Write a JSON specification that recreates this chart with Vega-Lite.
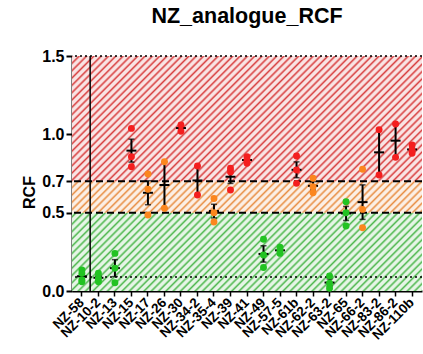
{
  "$schema": "https://vega.github.io/schema/vega-lite/v6.json",
  "width": 350,
  "height": 235,
  "autosize": {"type": "none"},
  "padding": {"left": 72, "top": 56, "right": 1, "bottom": 63},
  "background": "white",
  "title": {"text": "NZ_analogue_RCF", "fontSize": 21.5, "font": "Liberation Sans", "fontWeight": "bold", "color": "black", "offset": 21, "anchor": "middle"},
  "config": {
    "view": {"stroke": null},
    "font": "Liberation Sans",
    "axisX": {"labelAngle": -45, "labelAlign": "right", "labelBaseline": "middle", "labelFontSize": 13.5, "labelFontWeight": "bold", "labelColor": "black", "labelPadding": 4, "tickSize": 5, "tickWidth": 1.5, "tickColor": "black", "domainColor": "black", "domainWidth": 2, "grid": false, "labelOverlap": false},
    "axisY": {"labelFontSize": 16, "labelFontWeight": "bold", "labelColor": "black", "labelPadding": 2, "tickSize": 6, "tickWidth": 2, "tickColor": "black", "domainColor": "black", "domainWidth": 2, "grid": false, "titleFontSize": 16, "titleFontWeight": "bold", "titleColor": "black", "titlePadding": 4, "titleY": 136}
  },
  "datasets": {
    "pts": [
      {"cat": "NZ-58", "rcf": 0.134, "lvl": "low"}, {"cat": "NZ-58", "rcf": 0.113, "lvl": "low"}, {"cat": "NZ-58", "rcf": 0.07, "lvl": "low"}, {"cat": "NZ-58", "rcf": 0.059, "lvl": "low"},
      {"cat": "NZ-10-2", "rcf": 0.113, "lvl": "low"}, {"cat": "NZ-10-2", "rcf": 0.081, "lvl": "low"}, {"cat": "NZ-10-2", "rcf": 0.059, "lvl": "low"},
      {"cat": "NZ-13", "rcf": 0.24, "lvl": "low"}, {"cat": "NZ-13", "rcf": 0.145, "lvl": "low"}, {"cat": "NZ-13", "rcf": 0.053, "lvl": "low"},
      {"cat": "NZ-15", "rcf": 1.038, "lvl": "high"}, {"cat": "NZ-15", "rcf": 0.857, "lvl": "high"}, {"cat": "NZ-15", "rcf": 0.793, "lvl": "high"},
      {"cat": "NZ-17", "rcf": 0.747, "lvl": "mid"}, {"cat": "NZ-17", "rcf": 0.649, "lvl": "mid"}, {"cat": "NZ-17", "rcf": 0.485, "lvl": "mid"},
      {"cat": "NZ-26", "rcf": 0.825, "lvl": "mid"}, {"cat": "NZ-26", "rcf": 0.528, "lvl": "mid"},
      {"cat": "NZ-30", "rcf": 1.02, "lvl": "high"}, {"cat": "NZ-30", "rcf": 1.06, "lvl": "high"},
      {"cat": "NZ-34-2", "rcf": 0.798, "lvl": "high"}, {"cat": "NZ-34-2", "rcf": 0.613, "lvl": "high"},
      {"cat": "NZ-35-4", "rcf": 0.59, "lvl": "mid"}, {"cat": "NZ-35-4", "rcf": 0.5, "lvl": "mid"}, {"cat": "NZ-35-4", "rcf": 0.44, "lvl": "mid"},
      {"cat": "NZ-39", "rcf": 0.783, "lvl": "high"}, {"cat": "NZ-39", "rcf": 0.76, "lvl": "high"}, {"cat": "NZ-39", "rcf": 0.645, "lvl": "high"},
      {"cat": "NZ-41", "rcf": 0.857, "lvl": "high"}, {"cat": "NZ-41", "rcf": 0.836, "lvl": "high"}, {"cat": "NZ-41", "rcf": 0.815, "lvl": "high"},
      {"cat": "NZ-49", "rcf": 0.33, "lvl": "low"}, {"cat": "NZ-49", "rcf": 0.23, "lvl": "low"}, {"cat": "NZ-49", "rcf": 0.15, "lvl": "low"},
      {"cat": "NZ-57-5", "rcf": 0.279, "lvl": "low"}, {"cat": "NZ-57-5", "rcf": 0.26, "lvl": "low"}, {"cat": "NZ-57-5", "rcf": 0.24, "lvl": "low"},
      {"cat": "NZ-61b", "rcf": 0.862, "lvl": "high"}, {"cat": "NZ-61b", "rcf": 0.772, "lvl": "high"}, {"cat": "NZ-61b", "rcf": 0.687, "lvl": "high"},
      {"cat": "NZ-62-2", "rcf": 0.72, "lvl": "mid"}, {"cat": "NZ-62-2", "rcf": 0.666, "lvl": "mid"}, {"cat": "NZ-62-2", "rcf": 0.627, "lvl": "mid"},
      {"cat": "NZ-63-2", "rcf": 0.096, "lvl": "low"}, {"cat": "NZ-63-2", "rcf": 0.049, "lvl": "low"}, {"cat": "NZ-63-2", "rcf": 0.017, "lvl": "low"},
      {"cat": "NZ-65", "rcf": 0.57, "lvl": "low"}, {"cat": "NZ-65", "rcf": 0.5, "lvl": "low"}, {"cat": "NZ-65", "rcf": 0.415, "lvl": "low"},
      {"cat": "NZ-66-2", "rcf": 0.777, "lvl": "mid"}, {"cat": "NZ-66-2", "rcf": 0.521, "lvl": "mid"}, {"cat": "NZ-66-2", "rcf": 0.404, "lvl": "mid"},
      {"cat": "NZ-83-2", "rcf": 1.03, "lvl": "high"}, {"cat": "NZ-83-2", "rcf": 0.74, "lvl": "high"},
      {"cat": "NZ-86-2", "rcf": 1.066, "lvl": "high"}, {"cat": "NZ-86-2", "rcf": 0.853, "lvl": "high"},
      {"cat": "NZ-110b", "rcf": 0.879, "lvl": "high"}, {"cat": "NZ-110b", "rcf": 0.932, "lvl": "high"}, {"cat": "NZ-110b", "rcf": 0.9, "lvl": "high"}
    ],
    "bands": [
      {"lo": 0, "hi": 0.5, "zone": "low"},
      {"lo": 0.5, "hi": 0.7, "zone": "mid"},
      {"lo": 0.7, "hi": 1.5, "zone": "high"}
    ],
    "dash": [{"v": 0.5}, {"v": 0.7}],
    "dot": [{"v": 0.09}, {"v": 1.5}]
  },
  "layer": [
    {
      "data": {"name": "bands"},
      "mark": {"type": "rect"},
      "encoding": {
        "y": {"field": "lo", "type": "quantitative", "scale": {"domain": [0, 1.5], "nice": false, "zero": false}, "axis": {"title": "RCF", "values": [0, 0.5, 0.7, 1, 1.5], "format": ".1f"}},
        "y2": {"field": "hi"},
        "fill": {"field": "zone", "type": "nominal", "scale": {"domain": ["low", "mid", "high"], "range": ["#4fb84f", "#e88f45", "#d84040"]}, "legend": null}
      }
    },
    {
      "data": {"values": [{}]},
      "mark": {"type": "rect", "fill": {"gradient": "linear", "x1": 0, "y1": 0, "x2": 1.1521, "y2": 0.7735, "stops": [
        {"offset": 0, "color": "#ffffff00"}, {"offset": 0.00375, "color": "#ffffffdb"}, {"offset": 0.00875, "color": "#ffffffdb"}, {"offset": 0.0125, "color": "#ffffff00"}, {"offset": 0.01625, "color": "#ffffffdb"}, {"offset": 0.02125, "color": "#ffffffdb"}, {"offset": 0.025, "color": "#ffffff00"}, {"offset": 0.02875, "color": "#ffffffdb"}, {"offset": 0.03375, "color": "#ffffffdb"}, {"offset": 0.0375, "color": "#ffffff00"}, {"offset": 0.04125, "color": "#ffffffdb"}, {"offset": 0.04625, "color": "#ffffffdb"}, {"offset": 0.05, "color": "#ffffff00"}, {"offset": 0.05375, "color": "#ffffffdb"}, {"offset": 0.05875, "color": "#ffffffdb"}, {"offset": 0.0625, "color": "#ffffff00"}, {"offset": 0.06625, "color": "#ffffffdb"}, {"offset": 0.07125, "color": "#ffffffdb"}, {"offset": 0.075, "color": "#ffffff00"}, {"offset": 0.07875, "color": "#ffffffdb"}, {"offset": 0.08375, "color": "#ffffffdb"}, {"offset": 0.0875, "color": "#ffffff00"}, {"offset": 0.09125, "color": "#ffffffdb"}, {"offset": 0.09625, "color": "#ffffffdb"},
        {"offset": 0.1, "color": "#ffffff00"}, {"offset": 0.10375, "color": "#ffffffdb"}, {"offset": 0.10875, "color": "#ffffffdb"}, {"offset": 0.1125, "color": "#ffffff00"}, {"offset": 0.11625, "color": "#ffffffdb"}, {"offset": 0.12125, "color": "#ffffffdb"}, {"offset": 0.125, "color": "#ffffff00"}, {"offset": 0.12875, "color": "#ffffffdb"}, {"offset": 0.13375, "color": "#ffffffdb"}, {"offset": 0.1375, "color": "#ffffff00"}, {"offset": 0.14125, "color": "#ffffffdb"}, {"offset": 0.14625, "color": "#ffffffdb"}, {"offset": 0.15, "color": "#ffffff00"}, {"offset": 0.15375, "color": "#ffffffdb"}, {"offset": 0.15875, "color": "#ffffffdb"}, {"offset": 0.1625, "color": "#ffffff00"}, {"offset": 0.16625, "color": "#ffffffdb"}, {"offset": 0.17125, "color": "#ffffffdb"}, {"offset": 0.175, "color": "#ffffff00"}, {"offset": 0.17875, "color": "#ffffffdb"}, {"offset": 0.18375, "color": "#ffffffdb"}, {"offset": 0.1875, "color": "#ffffff00"}, {"offset": 0.19125, "color": "#ffffffdb"}, {"offset": 0.19625, "color": "#ffffffdb"},
        {"offset": 0.2, "color": "#ffffff00"}, {"offset": 0.20375, "color": "#ffffffdb"}, {"offset": 0.20875, "color": "#ffffffdb"}, {"offset": 0.2125, "color": "#ffffff00"}, {"offset": 0.21625, "color": "#ffffffdb"}, {"offset": 0.22125, "color": "#ffffffdb"}, {"offset": 0.225, "color": "#ffffff00"}, {"offset": 0.22875, "color": "#ffffffdb"}, {"offset": 0.23375, "color": "#ffffffdb"}, {"offset": 0.2375, "color": "#ffffff00"}, {"offset": 0.24125, "color": "#ffffffdb"}, {"offset": 0.24625, "color": "#ffffffdb"}, {"offset": 0.25, "color": "#ffffff00"}, {"offset": 0.25375, "color": "#ffffffdb"}, {"offset": 0.25875, "color": "#ffffffdb"}, {"offset": 0.2625, "color": "#ffffff00"}, {"offset": 0.26625, "color": "#ffffffdb"}, {"offset": 0.27125, "color": "#ffffffdb"}, {"offset": 0.275, "color": "#ffffff00"}, {"offset": 0.27875, "color": "#ffffffdb"}, {"offset": 0.28375, "color": "#ffffffdb"}, {"offset": 0.2875, "color": "#ffffff00"}, {"offset": 0.29125, "color": "#ffffffdb"}, {"offset": 0.29625, "color": "#ffffffdb"},
        {"offset": 0.3, "color": "#ffffff00"}, {"offset": 0.30375, "color": "#ffffffdb"}, {"offset": 0.30875, "color": "#ffffffdb"}, {"offset": 0.3125, "color": "#ffffff00"}, {"offset": 0.31625, "color": "#ffffffdb"}, {"offset": 0.32125, "color": "#ffffffdb"}, {"offset": 0.325, "color": "#ffffff00"}, {"offset": 0.32875, "color": "#ffffffdb"}, {"offset": 0.33375, "color": "#ffffffdb"}, {"offset": 0.3375, "color": "#ffffff00"}, {"offset": 0.34125, "color": "#ffffffdb"}, {"offset": 0.34625, "color": "#ffffffdb"}, {"offset": 0.35, "color": "#ffffff00"}, {"offset": 0.35375, "color": "#ffffffdb"}, {"offset": 0.35875, "color": "#ffffffdb"}, {"offset": 0.3625, "color": "#ffffff00"}, {"offset": 0.36625, "color": "#ffffffdb"}, {"offset": 0.37125, "color": "#ffffffdb"}, {"offset": 0.375, "color": "#ffffff00"}, {"offset": 0.37875, "color": "#ffffffdb"}, {"offset": 0.38375, "color": "#ffffffdb"}, {"offset": 0.3875, "color": "#ffffff00"}, {"offset": 0.39125, "color": "#ffffffdb"}, {"offset": 0.39625, "color": "#ffffffdb"},
        {"offset": 0.4, "color": "#ffffff00"}, {"offset": 0.40375, "color": "#ffffffdb"}, {"offset": 0.40875, "color": "#ffffffdb"}, {"offset": 0.4125, "color": "#ffffff00"}, {"offset": 0.41625, "color": "#ffffffdb"}, {"offset": 0.42125, "color": "#ffffffdb"}, {"offset": 0.425, "color": "#ffffff00"}, {"offset": 0.42875, "color": "#ffffffdb"}, {"offset": 0.43375, "color": "#ffffffdb"}, {"offset": 0.4375, "color": "#ffffff00"}, {"offset": 0.44125, "color": "#ffffffdb"}, {"offset": 0.44625, "color": "#ffffffdb"}, {"offset": 0.45, "color": "#ffffff00"}, {"offset": 0.45375, "color": "#ffffffdb"}, {"offset": 0.45875, "color": "#ffffffdb"}, {"offset": 0.4625, "color": "#ffffff00"}, {"offset": 0.46625, "color": "#ffffffdb"}, {"offset": 0.47125, "color": "#ffffffdb"}, {"offset": 0.475, "color": "#ffffff00"}, {"offset": 0.47875, "color": "#ffffffdb"}, {"offset": 0.48375, "color": "#ffffffdb"}, {"offset": 0.4875, "color": "#ffffff00"}, {"offset": 0.49125, "color": "#ffffffdb"}, {"offset": 0.49625, "color": "#ffffffdb"},
        {"offset": 0.5, "color": "#ffffff00"}, {"offset": 0.50375, "color": "#ffffffdb"}, {"offset": 0.50875, "color": "#ffffffdb"}, {"offset": 0.5125, "color": "#ffffff00"}, {"offset": 0.51625, "color": "#ffffffdb"}, {"offset": 0.52125, "color": "#ffffffdb"}, {"offset": 0.525, "color": "#ffffff00"}, {"offset": 0.52875, "color": "#ffffffdb"}, {"offset": 0.53375, "color": "#ffffffdb"}, {"offset": 0.5375, "color": "#ffffff00"}, {"offset": 0.54125, "color": "#ffffffdb"}, {"offset": 0.54625, "color": "#ffffffdb"}, {"offset": 0.55, "color": "#ffffff00"}, {"offset": 0.55375, "color": "#ffffffdb"}, {"offset": 0.55875, "color": "#ffffffdb"}, {"offset": 0.5625, "color": "#ffffff00"}, {"offset": 0.56625, "color": "#ffffffdb"}, {"offset": 0.57125, "color": "#ffffffdb"}, {"offset": 0.575, "color": "#ffffff00"}, {"offset": 0.57875, "color": "#ffffffdb"}, {"offset": 0.58375, "color": "#ffffffdb"}, {"offset": 0.5875, "color": "#ffffff00"}, {"offset": 0.59125, "color": "#ffffffdb"}, {"offset": 0.59625, "color": "#ffffffdb"},
        {"offset": 0.6, "color": "#ffffff00"}, {"offset": 0.60375, "color": "#ffffffdb"}, {"offset": 0.60875, "color": "#ffffffdb"}, {"offset": 0.6125, "color": "#ffffff00"}, {"offset": 0.61625, "color": "#ffffffdb"}, {"offset": 0.62125, "color": "#ffffffdb"}, {"offset": 0.625, "color": "#ffffff00"}, {"offset": 0.62875, "color": "#ffffffdb"}, {"offset": 0.63375, "color": "#ffffffdb"}, {"offset": 0.6375, "color": "#ffffff00"}, {"offset": 0.64125, "color": "#ffffffdb"}, {"offset": 0.64625, "color": "#ffffffdb"}, {"offset": 0.65, "color": "#ffffff00"}, {"offset": 0.65375, "color": "#ffffffdb"}, {"offset": 0.65875, "color": "#ffffffdb"}, {"offset": 0.6625, "color": "#ffffff00"}, {"offset": 0.66625, "color": "#ffffffdb"}, {"offset": 0.67125, "color": "#ffffffdb"}, {"offset": 0.675, "color": "#ffffff00"}, {"offset": 0.67875, "color": "#ffffffdb"}, {"offset": 0.68375, "color": "#ffffffdb"}, {"offset": 0.6875, "color": "#ffffff00"}, {"offset": 0.69125, "color": "#ffffffdb"}, {"offset": 0.69625, "color": "#ffffffdb"},
        {"offset": 0.7, "color": "#ffffff00"}, {"offset": 0.70375, "color": "#ffffffdb"}, {"offset": 0.70875, "color": "#ffffffdb"}, {"offset": 0.7125, "color": "#ffffff00"}, {"offset": 0.71625, "color": "#ffffffdb"}, {"offset": 0.72125, "color": "#ffffffdb"}, {"offset": 0.725, "color": "#ffffff00"}, {"offset": 0.72875, "color": "#ffffffdb"}, {"offset": 0.73375, "color": "#ffffffdb"}, {"offset": 0.7375, "color": "#ffffff00"}, {"offset": 0.74125, "color": "#ffffffdb"}, {"offset": 0.74625, "color": "#ffffffdb"}, {"offset": 0.75, "color": "#ffffff00"}, {"offset": 0.75375, "color": "#ffffffdb"}, {"offset": 0.75875, "color": "#ffffffdb"}, {"offset": 0.7625, "color": "#ffffff00"}, {"offset": 0.76625, "color": "#ffffffdb"}, {"offset": 0.77125, "color": "#ffffffdb"}, {"offset": 0.775, "color": "#ffffff00"}, {"offset": 0.77875, "color": "#ffffffdb"}, {"offset": 0.78375, "color": "#ffffffdb"}, {"offset": 0.7875, "color": "#ffffff00"}, {"offset": 0.79125, "color": "#ffffffdb"}, {"offset": 0.79625, "color": "#ffffffdb"},
        {"offset": 0.8, "color": "#ffffff00"}, {"offset": 0.80375, "color": "#ffffffdb"}, {"offset": 0.80875, "color": "#ffffffdb"}, {"offset": 0.8125, "color": "#ffffff00"}, {"offset": 0.81625, "color": "#ffffffdb"}, {"offset": 0.82125, "color": "#ffffffdb"}, {"offset": 0.825, "color": "#ffffff00"}, {"offset": 0.82875, "color": "#ffffffdb"}, {"offset": 0.83375, "color": "#ffffffdb"}, {"offset": 0.8375, "color": "#ffffff00"}, {"offset": 0.84125, "color": "#ffffffdb"}, {"offset": 0.84625, "color": "#ffffffdb"}, {"offset": 0.85, "color": "#ffffff00"}, {"offset": 0.85375, "color": "#ffffffdb"}, {"offset": 0.85875, "color": "#ffffffdb"}, {"offset": 0.8625, "color": "#ffffff00"}, {"offset": 0.86625, "color": "#ffffffdb"}, {"offset": 0.87125, "color": "#ffffffdb"}, {"offset": 0.875, "color": "#ffffff00"}, {"offset": 0.87875, "color": "#ffffffdb"}, {"offset": 0.88375, "color": "#ffffffdb"}, {"offset": 0.8875, "color": "#ffffff00"}, {"offset": 0.89125, "color": "#ffffffdb"}, {"offset": 0.89625, "color": "#ffffffdb"},
        {"offset": 0.9, "color": "#ffffff00"}, {"offset": 0.90375, "color": "#ffffffdb"}, {"offset": 0.90875, "color": "#ffffffdb"}, {"offset": 0.9125, "color": "#ffffff00"}, {"offset": 0.91625, "color": "#ffffffdb"}, {"offset": 0.92125, "color": "#ffffffdb"}, {"offset": 0.925, "color": "#ffffff00"}, {"offset": 0.92875, "color": "#ffffffdb"}, {"offset": 0.93375, "color": "#ffffffdb"}, {"offset": 0.9375, "color": "#ffffff00"}, {"offset": 0.94125, "color": "#ffffffdb"}, {"offset": 0.94625, "color": "#ffffffdb"}, {"offset": 0.95, "color": "#ffffff00"}, {"offset": 0.95375, "color": "#ffffffdb"}, {"offset": 0.95875, "color": "#ffffffdb"}, {"offset": 0.9625, "color": "#ffffff00"}, {"offset": 0.96625, "color": "#ffffffdb"}, {"offset": 0.97125, "color": "#ffffffdb"}, {"offset": 0.975, "color": "#ffffff00"}, {"offset": 0.97875, "color": "#ffffffdb"}, {"offset": 0.98375, "color": "#ffffffdb"}, {"offset": 0.9875, "color": "#ffffff00"}, {"offset": 0.99125, "color": "#ffffffdb"}, {"offset": 0.99625, "color": "#ffffffdb"},
        {"offset": 1, "color": "#ffffff00"}
      ]}},
      "encoding": {
        "y": {"datum": 0, "type": "quantitative", "axis": {"title": "RCF", "values": [0, 0.5, 0.7, 1, 1.5], "format": ".1f"}},
        "y2": {"datum": 1.5}
      }
    },
    {
      "data": {"values": [{}]},
      "mark": {"type": "rule", "color": "black", "strokeWidth": 1.5},
      "encoding": {
        "x": {"datum": "NZ-58", "type": "nominal", "bandPosition": 1, "axis": {"title": null}}
      }
    },
    {
      "data": {"name": "dash"},
      "mark": {"type": "rule", "color": "black", "strokeWidth": 2, "strokeDash": [7, 4]},
      "encoding": {
        "y": {"field": "v", "type": "quantitative", "axis": {"title": "RCF", "values": [0, 0.5, 0.7, 1, 1.5], "format": ".1f"}}
      }
    },
    {
      "data": {"name": "dot"},
      "mark": {"type": "rule", "color": "black", "strokeWidth": 1.5, "strokeDash": [2, 3]},
      "encoding": {
        "y": {"field": "v", "type": "quantitative", "axis": {"title": "RCF", "values": [0, 0.5, 0.7, 1, 1.5], "format": ".1f"}}
      }
    },
    {
      "data": {"name": "pts"},
      "mark": {"type": "errorbar", "extent": "stderr", "color": "black", "ticks": {"size": 6, "thickness": 1.5, "color": "black"}, "rule": {"strokeWidth": 2}},
      "encoding": {
        "x": {"field": "cat", "type": "nominal", "axis": {"title": null}},
        "y": {"field": "rcf", "type": "quantitative", "axis": {"title": "RCF", "values": [0, 0.5, 0.7, 1, 1.5], "format": ".1f"}}
      }
    },
    {
      "data": {"name": "pts"},
      "mark": {"type": "tick", "color": "black", "size": 10, "thickness": 2, "orient": "horizontal"},
      "encoding": {
        "x": {"field": "cat", "type": "nominal", "axis": {"title": null}},
        "y": {"aggregate": "mean", "field": "rcf", "type": "quantitative", "axis": {"title": "RCF", "values": [0, 0.5, 0.7, 1, 1.5], "format": ".1f"}}
      }
    },
    {
      "data": {"name": "pts"},
      "mark": {"type": "circle", "size": 48, "opacity": 1},
      "encoding": {
        "x": {"field": "cat", "type": "nominal",
          "scale": {"type": "band", "domain": ["NZ-58", "NZ-10-2", "NZ-13", "NZ-15", "NZ-17", "NZ-26", "NZ-30", "NZ-34-2", "NZ-35-4", "NZ-39", "NZ-41", "NZ-49", "NZ-57-5", "NZ-61b", "NZ-62-2", "NZ-63-2", "NZ-65", "NZ-66-2", "NZ-83-2", "NZ-86-2", "NZ-110b"], "paddingInner": 0, "paddingOuter": 0.1},
          "axis": {"title": null}},
        "y": {"field": "rcf", "type": "quantitative",
          "scale": {"domain": [0, 1.5], "nice": false, "zero": false},
          "axis": {"title": "RCF", "values": [0, 0.5, 0.7, 1, 1.5], "format": ".1f"}},
        "color": {"field": "lvl", "type": "nominal", "scale": {"domain": ["low", "mid", "high"], "range": ["#22c322", "#fb861e", "#f41e1e"]}, "legend": null}
      }
    }
  ]
}
